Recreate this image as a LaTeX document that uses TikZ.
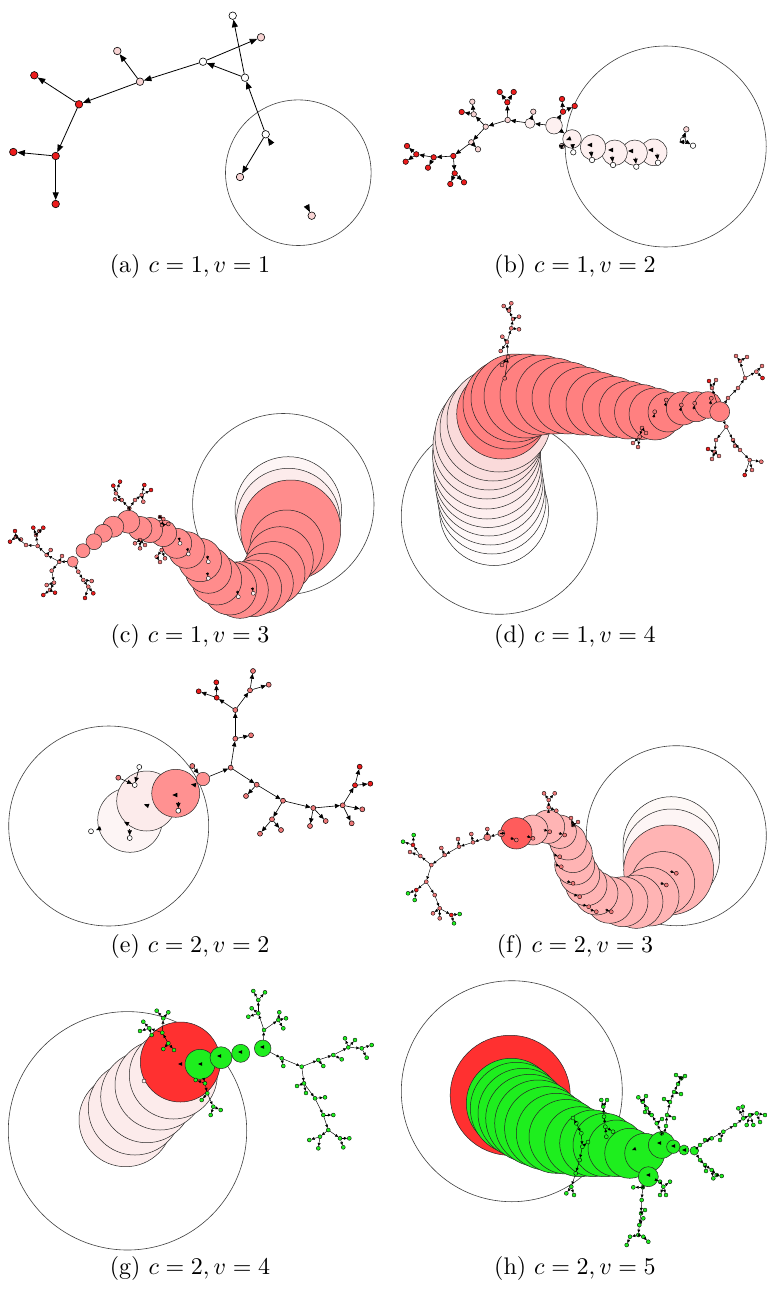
\documentclass[tikz,border=0pt]{standalone}
\usetikzlibrary{arrows.meta}
\definecolor{rd}{RGB}{236,28,28}
\definecolor{pk}{RGB}{248,212,212}
\definecolor{pw}{RGB}{253,240,240}
\definecolor{wp}{RGB}{254,249,247}
\definecolor{pe1}{RGB}{253,245,245}
\definecolor{pe2}{RGB}{252,235,235}
\definecolor{salc}{RGB}{255,140,140}
\definecolor{sald}{RGB}{255,128,128}
\definecolor{sale}{RGB}{255,145,145}
\definecolor{salf}{RGB}{255,180,180}
\definecolor{redf}{RGB}{255,92,92}
\definecolor{gr}{RGB}{30,238,30}
\definecolor{rg}{RGB}{255,48,48}
\definecolor{ns}{RGB}{238,120,120}
\definecolor{pd}{RGB}{248,205,205}
\tikzset{
 vA/.style={circle,draw=black,line width=0.6pt,inner sep=0pt,minimum size=7.5pt},
 eA/.style={line width=0.8pt,-{Triangle[length=7.5pt,width=6pt]}},
 vB/.style={circle,draw=black,line width=0.5pt,inner sep=0pt,minimum size=5.5pt},
 eB/.style={line width=0.6pt,-{Triangle[length=5pt,width=4.4pt]}},
 vE/.style={circle,draw=black,line width=0.5pt,inner sep=0pt,minimum size=5pt},
 eE/.style={line width=0.6pt,-{Triangle[length=5pt,width=4.4pt]}},
 sv/.style={circle,draw=black,line width=0.35pt,inner sep=0pt,minimum size=4pt},
 se/.style={line width=0.45pt,-{Triangle[length=3.2pt,width=2.8pt]}},
 blobst/.style={circle,draw=black!85,line width=0.5pt,inner sep=0pt},
 ringst/.style={circle,draw=black!75,line width=0.6pt,inner sep=0pt},
 captxt/.style={scale=2.4,inner sep=0pt},
}
\newcommand\blob[5]{\node[blobst,fill=#5,minimum size={2*#4pt}] (#1) at (#2,#3) {};}
\newcommand\ring[4]{\node[ringst,minimum size={2*#4pt}] (#1) at (#2,#3) {};}
\newcommand\tri[4]{\fill[black,shift={(#1,#2)},rotate=#3] (0,0) -- (-#4,0.45*#4) -- (-#4,-0.45*#4) -- cycle;}
\newcommand\nodesS[2]{\foreach \n/\x/\y/\c in {#2} {\node[#1,fill=\c] (\n) at (\x,\y) {};}}
\newcommand\edgesS[2]{\foreach \s/\t in {#2} {\draw[#1] (\s) -- (\t);}}
\begin{document}
\begin{tikzpicture}[x=1pt,y=-1pt]
\useasboundingbox[fill=white] (0,0) rectangle (766,1289);
% ================= (a)
\ring{aR}{298.3}{172.7}{72.8}
\nodesS{vA}{a1/232.7/15.7/white, a2/261/37.3/pk, a3/203/61.7/white, a4/245/77.7/white, a5/140/81.7/pk, a6/117.3/51/pk, a7/79/104.3/rd, a8/34.3/75.3/rd, a9/55.7/156/rd, a10/13.3/152/rd, a11/55.7/204/rd, a12/265.7/134.3/white, a13/240/177/pk, a14/311.7/215.7/pk}
\edgesS{eA}{a4/a1, a3/a2, a4/a3, a12/a4, a3/a5, a5/a6, a5/a7, a7/a8, a7/a9, a9/a10, a9/a11, a12/a13}
\draw[eA] (a12) ++(6,10) -- (a12);
\draw[eA] (a14) ++(-5,-10) -- (a14);
\node[captxt] (capa) at (190,266) {(a) $c=1,v=1$};
% ================= (b)
\ring{bR}{665.7}{146.5}{100.5}
\foreach \n/\x/\y/\r in {bB6/653.7/152.3/13.3, bB5/634.7/152.7/12.7, bB4/614.7/152.7/12.7, bB3/593/147.3/12.7, bB2/572/139/9.3, bB1/554/125.7/8.3, bB0/530/123.3/5} {\blob{\n}{\x}{\y}{\r}{pw}}
\nodesS{vB}{b1/507.7/120/pk, b2/485.7/126.7/pk, b3/471.3/142.3/pk, b4/453.3/156/rd, b5/433.7/157.3/rd, b6/416.3/154.3/rd, b7/507.3/102.3/rd, b8/499.7/92/rd, b9/513.7/92/rd, b10/473.7/114.3/pk, b11/461.7/112/rd, b12/472.3/101.7/pk, b13/478/149.3/pk, b14/454.7/173.3/rd, b15/450.3/184/rd, b16/464/182.3/rd, b17/428/167.7/rd, b18/407/146/rd, b19/405.7/161.7/rd, b20/533.3/111.7/pk, b21/563/111.7/rd, b22/562/99/rd, b23/574.7/106/rd, b24/562/146/pk, b25/573.3/152.3/white, b26/592/160/white, b27/613/165/white, b28/636.3/166.7/white, b29/658/162.7/white, b30/683/140/white, b31/686.3/129.3/pk, b32/693/145.7/white}
\edgesS{eB}{bB0/b1, b1/b2, b2/b3, b3/b4, b4/b5, b5/b6, bB1/bB0, bB1/bB2, b1/b7, b7/b8, b7/b9, b2/b10, b10/b11, b10/b12, b3/b13, b4/b14, b14/b15, b14/b16, b5/b17, b6/b18, b6/b19, bB0/b20, bB1/b21, b21/b22, b21/b23, bB2/b24, bB2/b25, b30/b31, b30/b32}
\foreach \n in {b26,b27,b28,b29} {\draw[eB] (\n) ++(-1,-9) -- (\n);}
\tri{587}{145}{180}{5}\tri{608}{150}{180}{5}\tri{628}{151}{180}{5}\tri{648}{150}{180}{5}\tri{566}{140}{200}{5}\tri{679}{142}{180}{5}
\node[captxt] (capb) at (575,266) {(b) $c=1,v=2$};
% ================= (c)
\ring{cR}{283.3}{504.2}{90.7}
\blob{cP1}{288.3}{510}{53.3}{pe1}
\blob{cP2}{288.3}{520}{51.7}{pe2}
\foreach [count=\i] \x/\y/\r in {290.7/530/50, 286.7/546.7/36.7, 280/560/33.3, 273.3/573.3/31.7, 263.3/583.3/30, 253.3/588.3/28.3, 240/590/28.3, 230/588.3/26.7, 216.7/580/25, 208.3/570/23.3, 200/560/21.7, 186.7/550/18.3, 176.7/543.3/15, 163.3/533.3/13.3, 150/530/12.7, 140/528.3/12, 128.3/521.7/11.5, 113.3/526.7/10.5, 103.3/533.3/9, 94/541.7/8, 83/550.7/7, 72.7/561.7/5.5} {\blob{cS\i}{\x}{\y}{\r}{salc}}
\nodesS{sv}{cl1/59.3/561.7/ns, cl2/46.7/555/ns, cl3/37.7/546/ns, cl4/26/545/ns, cl5/16/536.7/ns, cl6/10/541.7/rd, cl7/15/531/rd, cl8/21/539.5/ns, cl9/36/535/ns, cl10/33.3/527.7/rd, cl11/39.3/531/ns, cl12/43.3/527.7/rd, cl13/50.7/550/ns, cl14/51.7/570.7/ns, cl15/54/582.7/ns, cl16/50/590/ns, cl17/43.3/595/rd, cl18/55/592.7/rd, cl19/46.7/585/ns, cl20/78.3/571.7/ns, cl21/83.3/580/ns, cl22/88.3/586.7/ns, cl23/85/598/rd, cl24/93.3/593.3/rd, cl25/91.7/581/ns, cl26/62/556/ns}
\edgesS{se}{cS22/cl1, cl1/cl2, cl2/cl3, cl3/cl4, cl4/cl5, cl5/cl6, cl5/cl7, cl5/cl8, cl3/cl9, cl9/cl10, cl9/cl11, cl9/cl12, cl2/cl13, cl1/cl14, cl14/cl15, cl15/cl16, cl16/cl17, cl16/cl18, cl15/cl19, cS22/cl20, cl20/cl21, cl21/cl22, cl22/cl23, cl22/cl24, cl21/cl25, cl1/cl26}
\nodesS{sv}{ct1/129.3/508.3/ns, ct2/121.7/500/ns, ct3/116/493.3/ns, ct4/113.3/485.7/rd, ct5/120/481.7/rd, ct6/115/499.3/ns, ct7/135/500/ns, ct8/141.7/495/ns, ct9/144.3/485/rd, ct10/151/490/rd, ct11/143.3/501.7/ns}
\edgesS{se}{cS17/ct1, ct1/ct2, ct2/ct3, ct3/ct4, ct3/ct5, ct2/ct6, ct1/ct7, ct7/ct8, ct8/ct9, ct8/ct10, ct8/ct11}
\nodesS{sv}{cm1/162/525/ns, cm2/163.3/519/ns, cm3/168.3/524/ns, cm4/160/517/ns, cm5/140/540/ns, cm6/135/543.3/ns, cm7/140/548.3/ns, cm8/145/545/ns, cm9/161.7/550/ns, cm10/156.7/556.7/ns, cm11/165/558.3/ns, cm12/160/562/ns}
\edgesS{se}{cm1/cm2, cm1/cm3, cm2/cm4, cm5/cm6, cm5/cm7, cm5/cm8, cm9/cm10, cm9/cm11, cm10/cm12}
\nodesS{sv}{ci1/208.3/561.7/pw, ci2/208.3/578.3/pw, ci3/238.3/596.7/pw, ci4/253.3/593.3/pw, ci5/180/543.3/pw, ci6/188.3/554/pw}
\foreach \n in {ci1,ci2,ci3,ci4,ci5,ci6} {\draw[se] (\n) ++(-1,-6) -- (\n);}
\node[captxt] (capc) at (190,636) {(c) $c=1,v=3$};
% ================= (d)
\ring{dR}{499.3}{516.3}{98}
\foreach [count=\i] \x/\y/\r/\p in {494/511/54.5/4, 492/500/54/10, 490.5/491/54/16, 489/482/54/22, 488/473.5/54/28, 487/465/54/34, 486.5/455/54/42, 487/445/54/50, 489/436/54/58, 493/428/53/66, 499/420/52/74} {\node[blobst,fill=pd!\p!white,minimum size={2*\r pt}] (dP\i) at (\x,\y) {};}
\foreach [count=\i] \x/\y/\r in {501.7/414/45, 508/404/45, 515/398/44, 526/396/42, 540/395/40, 554/396/38, 568/398/36, 583/401/34, 598/404/32, 613/407/30.5, 628/410/29, 642/412/27.5, 655/414/26, 668/412/20, 683/408.3/16.7, 696.3/406.7/15, 708/405/13.3, 719.7/411.7/10} {\blob{dS\i}{\x}{\y}{\r}{sald}}
\nodesS{sv}{dt1/504.7/378.3/ns, dt2/502/365/ns, dt3/508/357/ns, dt4/500.7/351/ns, dt5/507/342/ns, dt6/502.3/336.7/ns, dt7/511.3/328.3/ns, dt8/519/329.3/ns, dt9/513/319/ns, dt10/519/316.7/ns, dt11/509/310.7/ns, dt12/503.7/306/ns, dt13/511.3/303.3/ns}
\edgesS{se}{dt1/dt3, dt3/dt2, dt3/dt5, dt5/dt4, dt5/dt6, dt5/dt7, dt7/dt8, dt7/dt9, dt9/dt10, dt9/dt11, dt11/dt12, dt11/dt13}
\nodesS{sv}{dr1/726.3/426.7/ns, dr2/733/440/ns, dr3/740/450/ns, dr4/749.7/460/ns, dr5/744.7/475/rd, dr6/761.3/461.7/ns, dr7/752/470/ns, dr8/716/440/ns, dr9/714.7/452/ns, dr10/708/449/rd, dr11/712/459/ns, dr12/719/456/ns, dr13/728/398/ns, dr14/738/388/ns, dr15/745/378/ns, dr16/756.3/371.7/ns, dr17/762/366/ns, dr18/762.5/378/rd, dr19/740/361/ns, dr20/736/356/ns, dr21/747/357/ns, dr22/712/388/ns, dr23/709/381/rd, dr24/716/380/ns, dr25/735/446/ns}
\edgesS{se}{dS18/dr1, dr1/dr2, dr2/dr3, dr3/dr4, dr4/dr5, dr4/dr6, dr4/dr7, dr1/dr8, dr8/dr9, dr9/dr10, dr9/dr11, dr9/dr12, dS18/dr13, dr13/dr14, dr14/dr15, dr15/dr16, dr16/dr17, dr16/dr18, dr15/dr19, dr19/dr20, dr19/dr21, dS18/dr22, dr22/dr23, dr22/dr24, dr2/dr25}
\nodesS{sv}{dm1/639.7/436.7/ns, dm2/633/443/ns, dm3/638/447/ns, dm4/646/433/ns, dm5/642/428/ns}
\edgesS{se}{dm5/dm1, dm1/dm2, dm1/dm3, dm5/dm4}
\nodesS{sv}{di1/666.3/400/ns, di2/654.7/411.7/ns, di3/681.3/405/ns, di4/694.7/403.3/ns, di5/711.3/398.3/ns}
\foreach \n in {di1,di2,di3,di4,di5} {\draw[se] (\n) ++(-1,6) -- (\n);}
\node[captxt] (capd) at (575,636) {(d) $c=1,v=4$};
% ================= (e)
\ring{eR}{108.7}{826}{100}
\blob{E1}{130}{820}{32.3}{pe1}
\blob{E2}{146.7}{801}{30}{pe2}
\blob{E3}{175.7}{793.3}{24}{sale}
\blob{E4}{203}{779}{6.7}{sale}
\nodesS{vE}{e1/230.7/767.7/ns, e2/235.3/738.7/ns, e3/251/735.3/ns, e4/235.3/710/ns, e5/216.7/697.7/rd, e6/198.7/691.3/rd, e7/216.3/682.3/rd, e8/250/690.3/ns, e9/253/671/ns, e10/268.7/684.7/ns, e11/256.7/784.7/ns, e12/246/796/ns, e13/283/800.7/ns, e14/272/819.3/ns, e15/260/833.7/ns, e16/281/830/ns, e17/313.3/808/ns, e18/310/826/ns, e19/325.7/821/ns, e20/342.7/805.3/ns, e21/351.7/823.3/ns, e22/362.3/809.3/ns, e23/355/785.3/rd, e24/359.7/766.7/rd, e25/370.3/783.7/rd, e26/192.3/766/ns, e27/118.3/777.7/ns, e28/139.3/767/white, e29/134.7/785/white, e30/91/831.3/white, e31/129.7/838/white, e32/178.3/810.7/white}
\edgesS{eE}{E4/e1, e1/e2, e2/e3, e2/e4, e4/e5, e5/e6, e5/e7, e4/e8, e8/e9, e8/e10, e1/e11, e11/e12, e11/e13, e13/e14, e14/e15, e14/e16, e13/e17, e17/e18, e17/e19, e17/e20, e20/e21, e20/e22, e20/e23, e23/e24, e23/e25, e27/e29, e28/e29, e26/E4}
\tri{191}{784.3}{170}{5}\tri{172.3}{795}{180}{5}\tri{144}{804.3}{160}{5}\tri{124}{821.7}{150}{5}\tri{96}{830}{200}{5}
\draw[eE] (e32) ++(0,-9) -- (e32);
\draw[eE] (e31) ++(0,-9) -- (e31);
\node[captxt] (cape) at (190,946) {(e) $c=2,v=2$};
% ================= (f)
\ring{fR}{676.3}{835.7}{90}
\blob{fP1}{671.3}{845}{48.3}{wp}
\blob{fP2}{671.3}{857.3}{48.3}{pe1}
\foreach [count=\i] \x/\y/\r in {668.7/870/45, 663/883.3/31.7, 649.7/896.7/29.3, 636.3/901.7/26.7, 623/901.7/25, 609.7/900/23.3, 596.3/893.3/21.7, 586.3/885/20.7, 579.7/875/20, 574.7/865/20, 573/853.3/19.3, 568/841.7/18.3, 559.7/831.7/16.7, 548/826.7/16.7, 533/830/15} {\blob{fS\i}{\x}{\y}{\r}{salf}}
\blob{fRd}{516.3}{833.3}{15.7}{redf}
\blob{fs1}{501.3}{833.3}{3.5}{ns}
\blob{fs2}{487.3}{837.3}{3.5}{ns}
\nodesS{sv}{fl1/473/842.3/ns, fl2/459/846.7/ns, fl3/444.7/855/ns, fl4/431.3/865/ns, fl5/426.3/881.7/ns, fl6/434.7/895/ns, fl7/439.7/908.3/ns, fl8/451.3/915/rd, fl9/487.3/829/ns, fl10/471.3/834/ns, fl11/458/839/ns, fl12/441.3/848/ns, fl13/420.3/856/ns, fl14/413/845/rd, fl15/403/841.7/gr, fl16/413.7/835/gr, fl17/416.3/890/rd, fl18/408/893.3/gr, fl19/414.7/900/gr, fl20/433/913.3/ns, fl21/439.7/918.3/ns, fl22/459.7/914/gr, fl23/454/923.3/gr, fl24/410/852/ns}
\edgesS{se}{fRd/fs1, fs1/fs2, fs2/fl1, fl1/fl2, fl2/fl3, fl3/fl4, fl4/fl5, fl5/fl6, fl6/fl7, fl7/fl8, fs2/fl9, fl1/fl10, fl2/fl11, fl3/fl12, fl4/fl13, fl13/fl14, fl14/fl15, fl14/fl16, fl13/fl24, fl5/fl17, fl17/fl18, fl17/fl19, fl7/fl20, fl7/fl21, fl8/fl22, fl8/fl23}
\nodesS{sv}{ft1/548.7/807.3/ns, ft2/548.7/800/ns, ft3/544/793.3/ns, ft4/554.7/793.3/ns, ft5/556.3/810.7/ns, ft6/573/825/ns, ft7/571/818/ns, ft8/578/822/ns}
\edgesS{se}{fS14/ft1, ft1/ft2, ft2/ft3, ft2/ft4, ft1/ft5, fS12/ft6, ft6/ft7, ft6/ft8}
\nodesS{sv}{fi1/564.7/835/ns, fi2/559.7/856.7/ns, fi3/561.3/866.7/ns, fi4/573/883.3/ns, fi5/579.7/896.7/ns, fi6/588.7/906.7/ns, fi7/596.3/911.7/ns, fi8/611.3/911.7/ns, fi9/666.3/885/ns, fi10/676.3/873.3/ns, fi11/516.3/840/ns, fi12/533/838.3/ns, fi13/549.7/831.7/ns}
\foreach \n in {fi1,fi2,fi3,fi4,fi5,fi6,fi7,fi8,fi9,fi10,fi11,fi12,fi13} {\draw[se] (\n) ++(-6,-2) -- (\n);}
\node[captxt] (capf) at (575,946) {(f) $c=2,v=3$};
% ================= (g)
\ring{gR}{127.5}{1130.8}{119.2}
\foreach [count=\i] \x/\y/\r in {125.7/1120/46.7, 135/1108.3/46.7, 146.7/1096.7/46, 160/1085/45, 173.3/1075/44} {\blob{gP\i}{\x}{\y}{\r}{pe2}}
\blob{gRed}{180.3}{1062}{40}{rg}
\foreach [count=\i] \x/\y/\r in {200/1064.3/15, 221/1057.7/11, 240.7/1053.3/9, 262.7/1048.3/8.3} {\blob{gG\i}{\x}{\y}{\r}{gr}}
\nodesS{sv}{gu1/264/1030/gr, gu2/258.3/1013.3/gr, gu3/258.3/1000/gr, gu4/251.7/1008.3/gr, gu5/248.3/1016.7/gr, gu6/253.3/991/gr, gu7/265/992.3/gr, gu8/278.3/1020/gr, gu9/279.3/1012.3/gr, gu10/286/1018.3/gr, gu11/283.3/1028.3/gr}
\edgesS{se}{gG4/gu1, gu1/gu2, gu2/gu3, gu2/gu4, gu2/gu5, gu3/gu6, gu3/gu7, gu1/gu8, gu8/gu9, gu8/gu10, gu8/gu11}
\nodesS{sv}{gt1/281.7/1058.3/gr, gt2/301.7/1066.7/gr, gt3/318.3/1060/gr, gt4/333.3/1055/gr, gt5/348.3/1047.3/gr, gt6/361.7/1048.3/gr, gt7/283.3/1066/gr, gt8/323.3/1066/gr, gt9/341.7/1059.3/gr, gt10/345/1038.3/gr, gt11/355/1040/gr, gt12/371.7/1045/gr, gt13/366.7/1057.7/gr}
\edgesS{se}{gG4/gt1, gt1/gt2, gt2/gt3, gt3/gt4, gt4/gt5, gt5/gt6, gt1/gt7, gt3/gt8, gt4/gt9, gt5/gt10, gt5/gt11, gt6/gt12, gt6/gt13}
\nodesS{sv}{gd1/304/1083.3/gr, gd2/315/1098.3/gr, gd3/323.3/1115/gr, gd4/328.3/1130/gr, gd5/320/1136.7/gr, gd6/297/1086/gr, gd7/306/1093/gr, gd8/325/1097.3/gr, gd9/333.3/1115/gr, gd10/309.3/1140/gr, gd11/318.3/1148.3/gr, gd12/340/1138.3/gr, gd13/349.3/1138.3/gr, gd14/343.3/1147.3/gr}
\edgesS{se}{gt2/gd1, gd1/gd2, gd2/gd3, gd3/gd4, gd4/gd5, gd1/gd6, gd1/gd7, gd2/gd8, gd3/gd9, gd5/gd10, gd5/gd11, gd4/gd12, gd12/gd13, gd12/gd14}
\nodesS{sv}{gl1/168.3/1043.3/gr, gl2/162.3/1032.7/gr, gl3/163.3/1018.3/gr, gl4/163.3/1049/gr, gl5/174/1050/gr, gl6/149.3/1028.3/gr, gl7/156.7/1010.7/gr, gl8/168.3/1012.3/gr, gl9/143.3/1021.7/gr, gl10/140/1031/gr, gl11/151.7/1035/gr}
\edgesS{se}{gl1/gl2, gl2/gl3, gl1/gl4, gl1/gl5, gl2/gl6, gl3/gl7, gl3/gl8, gl6/gl9, gl6/gl10, gl6/gl11}
\nodesS{sv}{gw1/205/1083.3/gr, gw2/207.3/1093.3/gr, gw3/213.3/1106.7/gr, gw4/201.7/1100/gr, gw5/210.7/1115/gr, gw6/220.7/1110/gr, gw7/195.7/1080/gr}
\edgesS{se}{gG1/gw1, gw1/gw2, gw2/gw3, gw2/gw4, gw3/gw5, gw3/gw6, gw1/gw7}
\tri{198}{1064}{180}{4}\tri{217}{1056}{180}{4}\tri{238}{1052}{180}{4}\tri{260}{1047}{180}{4}\tri{178}{1064}{180}{4}
\nodesS{sv}{gx1/144/1081/pw}
\node[captxt] (capg) at (190,1268) {(g) $c=2,v=4$};
% ================= (h)
\ring{hR}{511.8}{1091.2}{110.5}
\blob{hRed}{510.2}{1095.3}{60}{rg}
\foreach [count=\i] \x/\y/\r in {511.3/1103.3/45, 516.3/1108.3/46, 523/1113.3/45, 529.7/1118.3/44, 538/1123.3/43.3, 546.3/1128.3/41.7, 556.3/1133.3/40, 566.3/1136.7/37.3, 579.7/1141.7/35, 593/1143.3/33.3, 604.7/1145/31.7, 616.3/1148.3/28.3, 629.7/1153.3/25, 644.7/1153.3/20, 648.3/1176.7/10, 661.7/1145/13.3, 673.3/1146.7/6.7, 684/1150/5, 694.3/1150.7/4.3} {\blob{hG\i}{\x}{\y}{\r}{gr}}
\nodesS{sv}{ha1/661.7/1133.3/gr, ha2/656.7/1123.3/gr, ha3/651.7/1115/gr, ha4/646.7/1108.3/gr, ha5/642.7/1101.7/gr, ha6/638.3/1097.3/gr, ha7/646/1096/gr, ha8/645/1112/gr, ha9/662/1119/gr}
\edgesS{se}{hG16/ha1, ha1/ha2, ha2/ha3, ha3/ha4, ha4/ha5, ha5/ha6, ha5/ha7, ha3/ha8, ha2/ha9}
\nodesS{sv}{hb1/666/1126/gr, hb2/667/1115/gr, hb3/670/1102/gr, hb4/674/1092/gr, hb5/678/1084/gr, hb6/681.3/1078.3/gr, hb7/676/1075/gr, hb8/685/1076/gr, hb9/681/1094/gr, hb10/664/1099/gr, hb11/674/1118/gr}
\edgesS{se}{hG16/hb1, hb1/hb2, hb2/hb3, hb3/hb4, hb4/hb5, hb5/hb6, hb6/hb7, hb6/hb8, hb4/hb9, hb3/hb10, hb2/hb11}
\nodesS{sv}{hc1/700/1145/gr, hc2/711.7/1138.3/gr, hc3/723.3/1131.7/gr, hc4/735/1125/gr, hc5/743.3/1118.3/gr, hc6/750/1115/gr, hc7/756.7/1113.3/gr, hc8/765/1115/gr, hc9/738.3/1108.3/gr, hc10/742.7/1106.7/gr, hc11/753.3/1125/gr, hc12/746.7/1125/gr, hc13/720/1140/gr, hc14/705/1140/gr, hc15/760/1122/gr}
\edgesS{se}{hG19/hc1, hc1/hc2, hc2/hc3, hc3/hc4, hc4/hc5, hc5/hc6, hc6/hc7, hc7/hc8, hc5/hc9, hc5/hc10, hc6/hc11, hc6/hc12, hc3/hc13, hc2/hc14, hc7/hc15}
\nodesS{sv}{hd1/700/1160/gr, hd2/705/1165/gr, hd3/711.7/1170/gr, hd4/716.7/1175/gr, hd5/706/1171/gr, hd6/713.3/1178.3/gr, hd7/721.7/1176/gr}
\edgesS{se}{hG19/hd1, hd1/hd2, hd2/hd3, hd3/hd4, hd2/hd5, hd3/hd6, hd4/hd7}
\nodesS{sv}{he1/642.7/1187.3/gr, he2/641.7/1200/gr, he3/641/1213.3/gr, he4/639.3/1225/gr, he5/638.3/1235/gr, he6/633.3/1187.3/gr, he7/645/1210/gr, he8/643.3/1218.3/gr, he9/630/1236.7/gr, he10/626.7/1245/gr, he11/643.3/1236.7/gr, he12/648.3/1241.7/gr}
\edgesS{se}{hG15/he1, he1/he2, he2/he3, he3/he4, he4/he5, he1/he6, he3/he7, he4/he8, he5/he9, he9/he10, he5/he11, he11/he12}
\nodesS{sv}{hf1/660/1181.7/gr, hf2/663.3/1186.7/gr, hf3/670/1181.7/gr, hf4/666/1195/gr, hf5/660/1195/gr}
\edgesS{se}{hG15/hf1, hf1/hf2, hf2/hf3, hf2/hf4, hf2/hf5}
\nodesS{sv}{hk1/603.3/1106.7/gr, hk2/604/1116.7/gr, hk3/605.3/1126.7/gr, hk4/606.3/1136.7/gr, hk5/601.3/1100/gr, hk6/607/1100/gr, hk7/613/1131.7/gr}
\edgesS{se}{hk4/hk3, hk3/hk2, hk2/hk1, hk1/hk5, hk1/hk6, hk3/hk7}
\nodesS{sv}{hm1/576.3/1123.3/gr, hm2/581.3/1133.3/gr, hm3/582.3/1146.7/gr, hm4/579.7/1160/gr, hm5/575.7/1173.3/gr, hm6/571.3/1186.7/gr, hm7/573/1118/gr, hm8/566.3/1193.3/gr, hm9/574/1195/gr, hm10/588/1142/gr}
\edgesS{se}{hm1/hm2, hm2/hm3, hm3/hm4, hm4/hm5, hm5/hm6, hm1/hm7, hm6/hm8, hm6/hm9, hm3/hm10}
\tri{657}{1143}{180}{4}\tri{671}{1146}{180}{4}\tri{682}{1150}{180}{4}\tri{632}{1150}{200}{4}\tri{646}{1175}{180}{4}
\node[captxt] (caph) at (575,1268) {(h) $c=2,v=5$};
\end{tikzpicture}
\end{document}
